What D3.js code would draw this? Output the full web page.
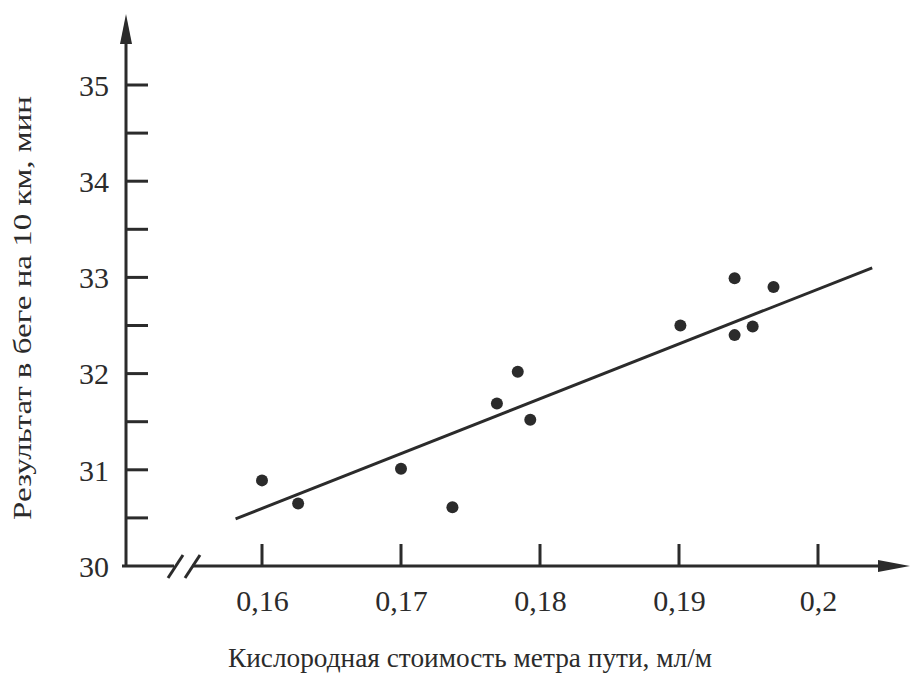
<!DOCTYPE html>
<html>
<head>
<meta charset="utf-8">
<script src="https://cdn.jsdelivr.net/npm/d3@7"></script>
<style>
  body { margin: 0; background: #fff; }
  svg { display: block; }
</style>
</head>
<body>
<svg id="chart" width="912" height="676"></svg>
<script>
// points
var cost = [0.160, 0.1626, 0.170, 0.1737, 0.1769, 0.1784, 0.1793, 0.1901, 0.1940, 0.1940, 0.1953, 0.1968];
var time = [30.89, 30.65, 31.01, 30.61, 31.69, 32.02, 31.52, 32.50, 32.99, 32.40, 32.49, 32.90];

// fitted line, two ends
var fitX = [0.1581, 0.2039];
var fitY = [30.49, 33.10];

var xTicks = [0.16, 0.17, 0.18, 0.19, 0.20];
var xTickLabels = ['0,16', '0,17', '0,18', '0,19', '0,2'];
var yTicks = [30, 31, 32, 33, 34, 35];
var yMinor = [30.5, 31.5, 32.5, 33.5, 34.5];

var ink = '#2b2b2b',
    font = '"Liberation Serif", "Times New Roman", serif';
var svg = d3.select('#chart');

var x = d3.scaleLinear().domain([0.16, 0.20]).range([262, 818]);
var y = d3.scaleLinear().domain([30, 35]).range([566, 85]);

var axisX = 126,  // where the y axis stands
    axisY = y(30);

// y axis line + arrow
svg.append('line')
    .attr('x1', axisX).attr('y1', axisY + 1)
    .attr('x2', axisX).attr('y2', 30)
    .attr('stroke', ink).attr('stroke-width', 3);
svg.append('path')
    .attr('d', 'M' + axisX + ',14 L' + (axisX - 6) + ',44 L' + (axisX + 6) + ',44 Z')
    .attr('fill', ink);

// x axis line with a break
svg.append('line')
    .attr('x1', axisX - 4).attr('y1', axisY)
    .attr('x2', 174).attr('y2', axisY)
    .attr('stroke', ink).attr('stroke-width', 3);
svg.append('line')
    .attr('x1', 192).attr('y1', axisY)
    .attr('x2', 885).attr('y2', axisY)
    .attr('stroke', ink).attr('stroke-width', 3);
svg.append('path')
    .attr('d', 'M910,' + axisY + ' L878,' + (axisY - 6) + ' L878,' + (axisY + 6) + ' Z')
    .attr('fill', ink);

// break marks
[0, 17].forEach(function(dx) {
    svg.append('line')
        .attr('x1', 168 + dx).attr('y1', axisY + 12)
        .attr('x2', 183 + dx).attr('y2', axisY - 11)
        .attr('stroke', ink).attr('stroke-width', 3);
});

// y ticks + labels
var gy = svg.append('g')
    .attr('transform', 'translate(' + axisX + ',0)')
    .call(d3.axisLeft(y).tickValues(yTicks).tickSize(0).tickPadding(17)
        .tickFormat(d3.format('d')));
gy.select('.domain').remove();
gy.selectAll('text')
    .attr('dy', '0.34em')
    .style('font-family', font)
    .style('font-size', '30px')
    .style('fill', ink);

svg.append('g').selectAll('line')
    .data(yTicks.filter(function(d) { return d > 30; }).concat(yMinor)).enter()
    .append('line')
    .attr('x1', axisX).attr('x2', axisX + 22)
    .attr('y1', function(d) { return y(d); })
    .attr('y2', function(d) { return y(d); })
    .attr('stroke', ink).attr('stroke-width', 3);

// x ticks + labels
var gx = svg.append('g')
    .attr('transform', 'translate(0,' + axisY + ')')
    .call(d3.axisBottom(x).tickValues(xTicks).tickSize(0).tickPadding(24)
        .tickFormat(function(d, i) { return xTickLabels[i]; }));
gx.select('.domain').remove();
gx.selectAll('text')
    .style('font-family', font)
    .style('font-size', '30px')
    .style('fill', ink);

svg.append('g').selectAll('line')
    .data(xTicks).enter()
    .append('line')
    .attr('x1', function(d) { return x(d); })
    .attr('x2', function(d) { return x(d); })
    .attr('y1', axisY).attr('y2', axisY - 22)
    .attr('stroke', ink).attr('stroke-width', 3);

// fitted line
svg.append('line')
    .attr('x1', x(fitX[0])).attr('y1', y(fitY[0]))
    .attr('x2', x(fitX[1])).attr('y2', y(fitY[1]))
    .attr('stroke', ink).attr('stroke-width', 3);

// dots
svg.append('g').selectAll('circle')
    .data(cost).enter()
    .append('circle')
    .attr('cx', function(d) { return x(d); })
    .attr('cy', function(d, i) { return y(time[i]); })
    .attr('r', 6)
    .attr('fill', ink);

// axis titles
svg.append('text')
    .attr('x', 470).attr('y', 667)
    .attr('text-anchor', 'middle')
    .attr('textLength', 484)
    .attr('lengthAdjust', 'spacingAndGlyphs')
    .style('font-family', font)
    .style('font-size', '27px')
    .style('fill', ink)
    .text('Кислородная стоимость метра пути, мл/м');

svg.append('text')
    .attr('transform', 'translate(31,308) rotate(-90)')
    .attr('text-anchor', 'middle')
    .attr('textLength', 424)
    .attr('lengthAdjust', 'spacingAndGlyphs')
    .style('font-family', font)
    .style('font-size', '26px')
    .style('fill', ink)
    .text('Результат в беге на 10 км, мин');
</script>
</body>
</html>
